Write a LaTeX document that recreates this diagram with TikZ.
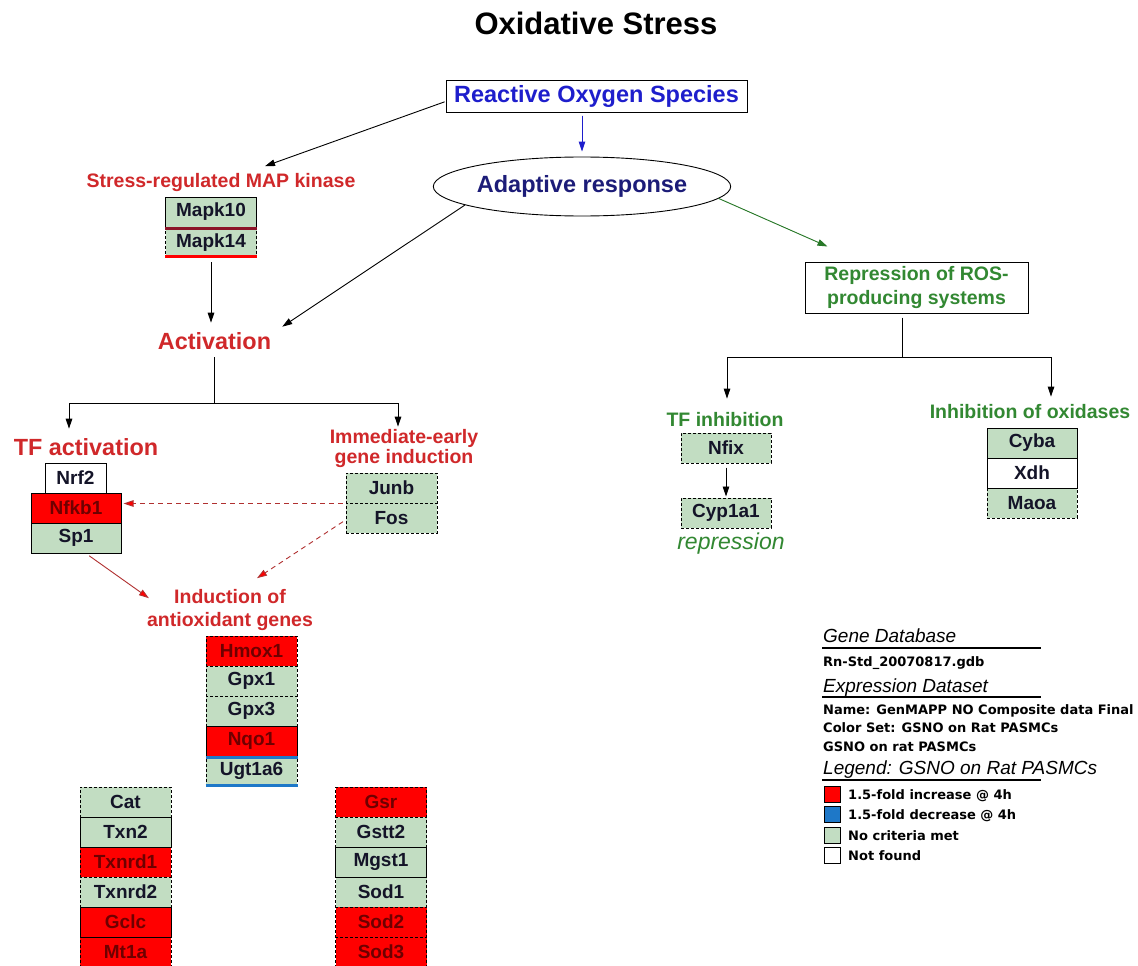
\documentclass[tikz,border=0pt]{standalone}
\usepackage{fontspec}
\setmainfont{Liberation Sans}
\newfontfamily\mydejavu{DejaVu Sans}
\usetikzlibrary{arrows.meta,shapes.geometric}
\definecolor{genegreen}{RGB}{194,221,194}
\definecolor{genered}{RGB}{255,0,0}
\definecolor{redtext}{RGB}{110,0,0}
\definecolor{genetext}{RGB}{20,20,40}
\definecolor{labred}{RGB}{208,40,42}
\definecolor{labgreen}{RGB}{50,136,50}
\definecolor{rosblue}{RGB}{30,30,204}
\definecolor{navy}{RGB}{28,28,120}
\definecolor{maroonc}{RGB}{140,20,40}
\definecolor{ugtblue}{RGB}{30,120,200}
\definecolor{dashred}{RGB}{176,48,48}
\definecolor{arrgreen}{RGB}{40,120,40}
\newcommand\mygf{\fontsize{19}{21}\selectfont\bfseries}
\newcommand\mylf{\fontsize{19.5}{22}\selectfont\bfseries}
\newcommand\mybf{\fontsize{23.4}{26}\selectfont\bfseries}
\newcommand\mylegf{\mydejavu\fontsize{13}{15}\selectfont\bfseries}
\newcommand\myleghead{\fontsize{19}{22}\selectfont\itshape}
\begin{document}
\begin{tikzpicture}[x=1pt,y=-1pt,
  >={Triangle[length=10pt,width=6.5pt]},
  gene/.style={rectangle, minimum width=91pt, minimum height=30pt, inner sep=0pt, font=\mygf, text=genetext},
  gr/.style={gene, fill=genegreen},
  rd/.style={gene, fill=genered, text=redtext},
  wh/.style={gene, fill=white},
  sol/.style={draw=black, line width=1pt},
  dsh/.style={draw=black, line width=1pt, dash pattern=on 3pt off 2pt},
  lab/.style={inner sep=0pt, font=\mylf, align=center},
  conn/.style={draw=black, line width=0.9pt},
  arr/.style={conn, ->},
  legtxt/.style={anchor=base west, inner sep=0pt, font=\mylegf, text=black},
  leghd/.style={anchor=base west, inner sep=0pt, font=\myleghead, text=black},
  swatch/.style={draw=black, line width=0.8pt, minimum size=16pt, inner sep=0pt},
]
\useasboundingbox[fill=white] (0,0) rectangle (1138,966);

% title
\node[inner sep=0pt, font=\fontsize{31}{36}\selectfont\bfseries] (title) at (596,23) {Oxidative Stress};

% top nodes
\node[draw, line width=1pt, minimum width=301pt, minimum height=31pt, inner sep=0pt, text=rosblue,
      font=\fontsize{23.5}{26}\selectfont\bfseries] (ros) at (596.5,96.5) {Reactive Oxygen Species};
\node[ellipse, draw, line width=0.9pt, minimum width=282pt, minimum height=59pt, inner sep=0pt, text=navy,
      font=\fontsize{23.5}{26}\selectfont\bfseries] (adapt) at (582,186.5) {Adaptive response};

% MAP kinase
\node[lab, text=labred] (mapl) at (221,182.5) {Stress-regulated MAP kinase};
\node[gr,dsh] (mapk14) at (211,242.5) {Mapk14};
\node[gr,sol] (mapk10) at (211,212) {Mapk10};
\draw[maroonc, line width=3pt] ([yshift=-0.5pt]mapk10.south west) -- ([yshift=-0.5pt]mapk10.south east);
\draw[genered, line width=2.5pt] ([yshift=1.5pt]mapk14.south west) -- ([yshift=1.5pt]mapk14.south east);

% Activation
\node[inner sep=0pt, font=\mybf, text=labred] (act) at (214.5,341.5) {Activation};
\node[inner sep=0pt, font=\mybf, text=labred] (tfa) at (86,447.5) {TF activation};
\node[lab, text=labred, font=\fontsize{19.5}{20}\selectfont\bfseries] (ied) at (404,448) {Immediate-early\\gene induction};

% Repression
\node[draw, line width=1pt, minimum width=223pt, minimum height=51pt, inner sep=0pt, text=labgreen,
      font=\fontsize{19.5}{24}\selectfont\bfseries, align=center] (rep) at (916.5,287.5) {Repression of ROS-\\producing systems};
\node[lab, text=labgreen] (tfi) at (725,420) {TF inhibition};
\node[lab, text=labgreen] (ioo) at (1030,412) {Inhibition of oxidases};

% TF activation genes
\node[wh,sol] (nrf2) at (75.5,478) [minimum width=61pt] {Nrf2};
\node[rd,sol] (nfkb1) at (76,508) [minimum width=90pt] {Nfkb1};
\node[gr,sol] (sp1) at (76,538) [minimum width=90pt] {Sp1};

% Immediate early genes
\node[gr,dsh] (junb) at (391.5,488) {Junb};
\node[gr,dsh] (fos) at (391.5,518) {Fos};

% Induction of antioxidant genes
\node[lab, text=labred, font=\fontsize{19.5}{23}\selectfont\bfseries] (ind) at (230,610) {Induction of\\antioxidant genes};
\node[rd,dsh] (hmox1) at (251.5,651) {Hmox1};
\node[gr,dsh] (gpx1) at (251.5,681) {Gpx1};
\node[gr,dsh] (gpx3) at (251.5,711) {Gpx3};
\node[gr,dsh] (ugt) at (251.5,771) {Ugt1a6};
\node[rd,sol] (nqo1) at (251.5,741) {Nqo1};
\draw[ugtblue, line width=3pt] ([yshift=-1.5pt]ugt.north west) -- ([yshift=-1.5pt]ugt.north east);
\draw[ugtblue, line width=2.5pt] ([yshift=1.2pt]ugt.south west) -- ([yshift=1.2pt]ugt.south east);

% left column
\node[gr,dsh] (cat) at (125.5,802) {Cat};
\node[rd,dsh] (txnrd1) at (125.5,862) {Txnrd1};
\node[gr,dsh] (txnrd2) at (125.5,892) {Txnrd2};
\node[rd,dsh] (mt1a) at (125.5,952) {Mt1a};
\node[gr,sol] (txn2) at (125.5,832) {Txn2};
\node[rd,sol] (gclc) at (125.5,922) {Gclc};

% right column
\node[rd,dsh] (gsr) at (381,802) {Gsr};
\node[gr,dsh] (gstt2) at (381,832) {Gstt2};
\node[gr,dsh] (sod1) at (381,892) {Sod1};
\node[rd,dsh] (sod2) at (381,922) {Sod2};
\node[rd,dsh] (sod3) at (381,952) {Sod3};
\node[gr,sol] (mgst1) at (381,862) {Mgst1};

% TF inhibition genes
\node[gr,dsh] (nfix) at (726,448) [minimum width=90pt] {Nfix};
\node[gr,dsh] (cyp) at (726,513) [minimum width=90pt] {Cyp1a1};
\node[inner sep=0pt, text=labgreen, font=\fontsize{23}{26}\selectfont\itshape] (repr) at (731,544) {repression};

% oxidases
\node[gr,dsh] (maoa) at (1032,503) [minimum width=90pt] {Maoa};
\node[gr,sol] (cyba) at (1032,443) [minimum width=90pt] {Cyba};
\node[wh,sol] (xdh) at (1032,473) [minimum width=90pt] {Xdh};

% connectors
\draw[arr, shorten <=1pt] ([yshift=-5pt]ros.west) -- ([xshift=44pt,yshift=7pt]mapl.north);
\draw[arr, draw=rosblue, fill=rosblue, shorten <=3pt, shorten >=5pt] (ros.south -| adapt.north) -- (adapt.north);
\draw[arr] (adapt.189) -- ([xshift=11pt,yshift=6pt]act.north east);
\draw[arr, draw=arrgreen, fill=arrgreen] (adapt.-5) -- ([xshift=23pt,yshift=15pt]rep.north west);
\draw[arr, shorten <=4pt, shorten >=10pt] (mapk14.south) -- (mapk14.south |- act.north);

\coordinate (aL) at (69,403);
\coordinate (aR) at (398,403);
\draw[conn, shorten <=7pt] (act.south) -- (act.south |- aL);
\draw[conn] (aL) -- (aR);
\draw[arr, shorten >=10pt] (aL) -- (aL |- tfa.north);
\draw[arr, shorten >=2pt] (aR) -- (aR |- ied.north);

\coordinate (rL) at (727,357);
\coordinate (rR) at (1051,357);
\draw[conn, shorten <=4pt] ([xshift=-14pt]rep.south) -- ([xshift=-14pt]rep.south |- rL);
\draw[conn] (rL) -- (rR);
\draw[arr, shorten >=14pt] (rL) -- (rL |- tfi.north);
\draw[arr, shorten >=8pt] (rR) -- (rR |- ioo.north);

\draw[arr, shorten <=4pt, shorten >=1pt] (nfix.south) -- (cyp.north);

\draw[conn, draw=dashred, dash pattern=on 5pt off 4pt, -{Triangle[length=10pt,width=6.5pt,fill=genered]}, shorten <=3pt, shorten >=2pt]
  (junb.south west) -- (junb.south west -| nfkb1.east);
\draw[conn, draw=dashred, dash pattern=on 5pt off 4pt, -{Triangle[length=10pt,width=6.5pt,fill=genered]}, shorten <=3pt]
  ([yshift=-2pt]fos.west) -- ([xshift=27pt,yshift=11pt]ind.north);
\draw[conn, draw=dashred, -{Triangle[length=10pt,width=6.5pt,fill=genered]}, shorten <=4pt]
  ([xshift=10pt]sp1.south) -- ([xshift=2pt,yshift=-9pt]ind.north west);

% legend
\node[leghd] (lgdb) at (823,642) {Gene Database};
\draw[line width=1.8pt] (822,648) -- (1041,648);
\node[legtxt] (lgdbv) at (823,666) {Rn-Std\_20070817.gdb};
\node[leghd] (lexp) at (823,692) {Expression Dataset};
\draw[line width=1.8pt] (822,697) -- (1041,697);
\node[legtxt] (lname) at (823,714) {Name: GenMAPP NO Composite data Final};
\node[legtxt] (lcset) at (823,732) {Color Set: GSNO on Rat PASMCs};
\node[legtxt] (lgsno) at (823,751) {GSNO on rat PASMCs};
\node[leghd] (lleg) at (823,774) {Legend: GSNO on Rat PASMCs};
\draw[line width=1.8pt] (822,780) -- (1041,780);
\node[swatch, fill=genered] (sw1) at (832.5,794) {};
\node[swatch, fill=ugtblue] (sw2) at (832.5,814) {};
\node[swatch, fill=genegreen] (sw3) at (832.5,835) {};
\node[swatch, fill=white] (sw4) at (832.5,855) {};
\node[legtxt] (lt1) at (848,799) {1.5-fold increase @ 4h};
\node[legtxt] (lt2) at (848,819) {1.5-fold decrease @ 4h};
\node[legtxt] (lt3) at (848,840) {No criteria met};
\node[legtxt] (lt4) at (848,860) {Not found};
\end{tikzpicture}
\end{document}
